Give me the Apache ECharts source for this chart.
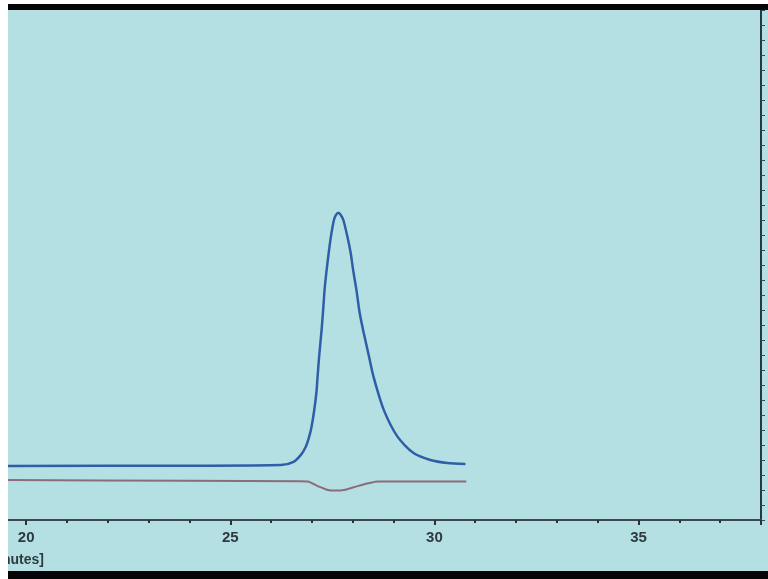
<!DOCTYPE html>
<html>
<head>
<meta charset="utf-8">
<script src="https://cdn.jsdelivr.net/npm/echarts@6/dist/echarts.min.js"></script>
<style>
  body { margin: 0; background: #ffffff; }
  #frame {
    position: absolute; left: 8px; top: 4px; width: 760px; height: 561px;
    border-top: 6px solid #050508;
    border-bottom: 8px solid #050508;
    overflow: hidden;
    background: #b5e0e3;
  }
  #main { position: absolute; left: -189px; top: 0; width: 949px; height: 561px; }
</style>
</head>
<body>
<div id="frame"><div id="main"></div></div>
<script>
// retention time [minutes] and detector signal (arbitrary units)
const blueTime = [19.5, 24.0, 26.24, 26.55, 26.73, 26.85, 26.93, 26.99, 27.05, 27.11, 27.14, 27.18, 27.23, 27.27, 27.31, 27.36, 27.42, 27.48, 27.54, 27.59, 27.65, 27.71, 27.77, 27.87, 27.95, 28.01, 28.09, 28.17, 28.27, 28.39, 28.51, 28.76, 29.10, 29.49, 29.90, 30.32, 30.76];
const blueSignal = [18.0, 18.1, 18.3, 19.4, 21.7, 24.4, 27.6, 31.0, 36.0, 42.5, 48.0, 55.0, 62.3, 69.0, 76.7, 83.3, 90.0, 95.7, 100.0, 101.7, 102.4, 101.6, 100.0, 94.4, 89.0, 83.3, 76.7, 69.0, 62.3, 55.0, 47.7, 36.7, 27.7, 22.3, 20.0, 19.0, 18.7];

const redTime = [19.5, 24.0, 26.7, 26.90, 27.14, 27.39, 27.58, 27.78, 28.12, 28.44, 28.61, 30.78];
const redSignal = [13.3, 13.1, 12.9, 12.8, 11.3, 10.0, 9.8, 10.0, 11.3, 12.4, 12.8, 12.8];

const tickLabels = [20, 25, 30, 35];

function pairs(xs, ys) {
  return xs.map((x, i) => [x, ys[i]]);
}

let myChart = echarts.init(document.getElementById('main'));

let option = {
  animation: false,
  title: {
    text: '[minutes]',
    left: 157,
    top: 538,
    textStyle: { color: '#2e3a3e', fontSize: 14, fontWeight: 'bold', fontFamily: 'Liberation Sans' }
  },
  grid: { left: 0, right: 7, top: 0, bottom: 51 },
  xAxis: {
    type: 'value',
    min: 15,
    max: 38,
    interval: 5,
    axisLine: { onZero: false, lineStyle: { color: '#3a474c', width: 2 } },
    axisTick: { length: 5, lineStyle: { color: '#2a3438', width: 2 } },
    minorTick: { show: true, splitNumber: 5, length: 3, lineStyle: { color: '#2a3438', width: 2 } },
    splitLine: { show: false },
    axisLabel: {
      margin: 10,
      color: '#2e3a3e',
      fontSize: 15,
      fontWeight: 'bold',
      fontFamily: 'Liberation Sans',
      formatter: v => (tickLabels.indexOf(v) >= 0 ? v : '')
    }
  },
  yAxis: {
    type: 'value',
    position: 'right',
    min: 0,
    max: 170,
    interval: 5,
    axisLine: { show: true, lineStyle: { color: '#25364a', width: 2 } },
    axisTick: { show: true, length: 4, lineStyle: { color: '#3a4a58', width: 1 } },
    axisLabel: { show: false },
    splitLine: { show: false }
  },
  series: [
    {
      name: 'signal',
      type: 'line',
      data: pairs(blueTime, blueSignal),
      smooth: 0.25,
      showSymbol: false,
      lineStyle: { color: '#2f5ea6', width: 2.5 }
    },
    {
      name: 'reference',
      type: 'line',
      data: pairs(redTime, redSignal),
      smooth: 0.25,
      showSymbol: false,
      lineStyle: { color: '#8a6c7a', width: 2 }
    }
  ]
};

myChart.setOption(option);
</script>
</body>
</html>
